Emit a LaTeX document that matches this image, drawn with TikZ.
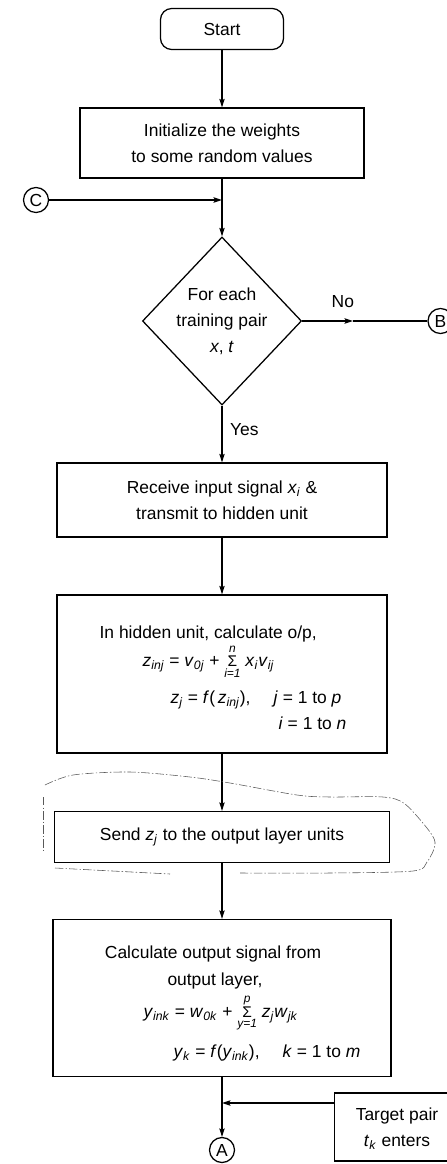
\documentclass[tikz,border=0pt]{standalone}
\usepackage{fontspec}
\setmainfont{Liberation Sans}
\usepackage{tikz}
\usetikzlibrary{arrows.meta,positioning,shapes.geometric}

% italic variable with italic subscript
\newcommand{\vs}[2]{\textit{#1}\textsubscript{\textit{#2}}}
% small sigma with limits above and below
\newcommand{\sumlim}[2]{\ensuremath{\mathop{\hbox{\fontsize{11}{11}\selectfont Σ}}\limits_{\hbox{\fontsize{8.5}{9}\selectfont\itshape #1}}^{\hbox{\fontsize{8.5}{9}\selectfont\itshape #2}}}}

\begin{document}
\begin{tikzpicture}[
  x=0.025cm, y=-0.025cm,
  >={Stealth[length=6pt,width=3.8pt,inset=1pt]},
  line width=0.9pt,
  every node/.style={font=\fontsize{12.4}{18.5}\selectfont},
  proc/.style={draw, rectangle, align=center, inner sep=0pt},
  term/.style={draw, rectangle, rounded corners=8pt, minimum width=3.075cm, minimum height=1.025cm},
  decide/.style={draw, diamond, align=center, inner sep=0pt, minimum width=3.975cm, minimum height=4.2cm},
  conn/.style={draw, circle, inner sep=0pt, minimum size=0.625cm},
  txt/.style={anchor=base west, inner sep=0pt},
  scribble/.style={line width=0.4pt, black!65, dash pattern=on 6pt off 1.5pt on 1pt off 1.5pt},
]
  \useasboundingbox (0,0) rectangle (447,1164);

  % main column
  \node[term] (start) at (222,29) {Start};
  \node[proc, minimum width=7.1cm, minimum height=1.75cm] (init) at (222,143)
    {Initialize the weights\\to some random values};
  \node[decide] (dec) at (222,321) {For each\\training pair\\\textit{x}, \textit{t}};
  \node[proc, minimum width=8.25cm, minimum height=1.85cm] (recv) at (222,500)
    {Receive input signal \vs{x}{i} \&\\transmit to hidden unit};
  \node[proc, minimum width=8.25cm, minimum height=3.95cm] (hid) at (222,674) {};
  \node[proc, minimum width=8.375cm, minimum height=1.275cm] (send) at (222,837)
    {Send \vs{z}{j} to the output layer units};
  \node[proc, minimum width=8.45cm, minimum height=3.925cm] (calc) at (222,998) {};

  % connectors (circles)
  \node[conn] (C) at (36,200) {C};
  \node[conn] (B) at (440.5,321) {B};
  \node[conn] (A) at (222,1150) {A};

  % target box runs off the right edge
  \node[proc, anchor=west, minimum width=3.6cm, minimum height=1.7cm] (tgt) at (334,1127) {};
  \node[align=center, inner sep=0pt] (tgttxt) at (397,1129) {Target pair\\\vs{t}{k} enters};

  % text of the hidden unit box
  \node[txt] (hid1) at (99,638) {In hidden unit, calculate o/p,};
  \node[txt] (hid2) at (142,666)
    {\vs{z}{inj} = \vs{v}{0j} + \sumlim{i=1}{n} \vs{x}{i}\vs{v}{ij}};
  \node[txt] (hid3) at (170,703) {\vs{z}{j} = \textit{f}(\,\vs{z}{inj}),};
  \node[txt] (hid4) at (273,703) {\textit{j} = 1 to \textit{p}};
  \node[txt] (hid5) at (278,729) {\textit{i} = 1 to \textit{n}};

  % text of the output layer box
  \node[anchor=base, inner sep=0pt] (out1) at (213,958) {Calculate output signal from};
  \node[anchor=base, inner sep=0pt] (out2) at (215,985) {output layer,};
  \node[txt] (out3) at (143,1017)
    {\vs{y}{ink} = \vs{w}{0k} + \sumlim{y=1}{p} \vs{z}{j}\vs{w}{jk}};
  \node[txt] (out4) at (173,1057) {\vs{y}{k} = \textit{f}(\vs{y}{ink}),};
  \node[txt] (out5) at (282,1057) {\textit{k} = 1 to \textit{m}};

  % joins
  \coordinate (nomid) at (353,321);
  \coordinate (tjoin) at (222,1103);

  % flow
  \draw[->] (start) -- (init);
  \draw[->] (init) -- (dec);
  \draw[->] (C) -- (C -| init.south);
  \draw[->] (dec.east) -- (nomid) node[above=6pt, pos=0.8] (no) {No};
  \draw (nomid) -- (B);
  \draw[->] (dec) -- (recv) node[right=2pt, pos=0.42] (yes) {Yes};
  \draw[->] (recv) -- (hid);
  \draw[->] (hid) -- (send);
  \draw[->] (send) -- (calc);
  \draw[->] (calc) -- (A);
  \draw[->] (tjoin -| tgt.west) -- (tjoin);

  % pencil loop around the send box
  \draw[scribble] plot[smooth] coordinates {(45,785) (73,775) (130,772) (190,777)
    (230,783) (297,795) (330,797) (383,797) (405,804) (430,832) (435,845)
    (427,862) (413,871) (330,873) (240,873)};
  \draw[scribble] (43,797) -- (43,850);
  \draw[scribble] (55,868) -- (170,874);
\end{tikzpicture}
\end{document}
